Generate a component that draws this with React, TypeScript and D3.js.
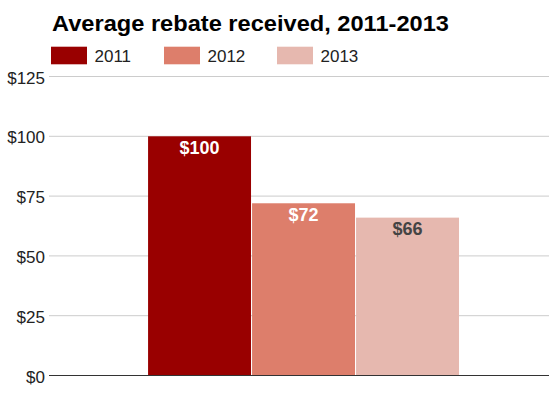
import React from "react";
import * as d3 from "d3";

const title = "Average rebate received, 2011-2013";
const series = ["2011", "2012", "2013"];
const values = [100, 72, 66];
const colors = ["#990000", "#dd7e6b", "#e6b8af"];
const labelColors = ["#ffffff", "#ffffff", "#444444"];
const yTicks = [0, 25, 50, 75, 100, 125];

export default function App() {
  const W = 551, H = 398;
  const left = 49, right = 549, top = 76.5, bottom = 375.5;
  const y = d3.scaleLinear().domain([0, 125]).range([bottom, top]);
  const outer = d3.scaleBand().domain(["g"]).range([left, right]).paddingInner(0).paddingOuter(0.304).align(0.524);
  const inner = d3.scaleBand().domain(series).range([0, outer.bandwidth()]).paddingInner(0.01);
  const font = "Arial, 'Liberation Sans', sans-serif";
  const legendX = [51, 164, 277];
  return (
    <svg width={W} height={H} style={{ position: "absolute", left: 0, top: 0, background: "#fff" }} fontFamily={font}>
      <text x={52} y={31} fontSize={22} fontWeight="bold" fill="#000" textLength={397} lengthAdjust="spacingAndGlyphs">{title}</text>
      {series.map((s, i) => (
        <g key={s}>
          <rect x={legendX[i]} y={46.7} width={36} height={17.6} fill={colors[i]} />
          <text x={legendX[i] + 43.5} y={61.7} fontSize={17} fill="#222">{s}</text>
        </g>
      ))}
      {yTicks.map((t) => (
        <g key={t}>
          {t > 0 && <line x1={left} x2={right} y1={y(t)} y2={y(t)} stroke="#cccccc" strokeWidth={1} />}
          <text x={45} y={y(t) + 7} fontSize={17} textAnchor="end" fill="#222">${t}</text>
        </g>
      ))}
      {series.map((s, i) => {
        const x0 = (outer("g") as number) + (inner(s) as number);
        return (
          <g key={s}>
            <rect x={x0} y={y(values[i])} width={inner.bandwidth()} height={bottom - y(values[i])} fill={colors[i]} />
            <text x={x0 + inner.bandwidth() / 2} y={y(values[i]) + 17.7} fontSize={18} fontWeight="bold" textAnchor="middle" fill={labelColors[i]}>${values[i]}</text>
          </g>
        );
      })}
      <line x1={left} x2={right} y1={bottom} y2={bottom} stroke="#333333" strokeWidth={1.2} />
    </svg>
  );
}
